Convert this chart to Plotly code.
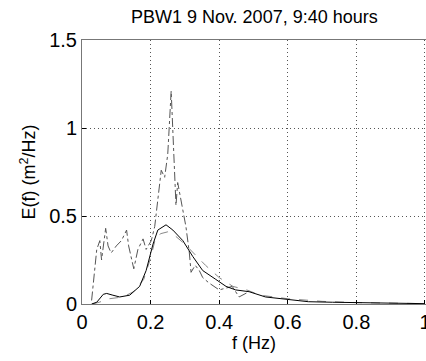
import plotly.graph_objects as go

# Measured spectrum (noisy, dash-dot)
f_meas = [0.028, 0.043, 0.052, 0.057, 0.069, 0.076, 0.085, 0.100, 0.115, 0.130, 0.136, 0.151,
          0.163, 0.178, 0.187, 0.202, 0.212, 0.221, 0.231, 0.241, 0.250, 0.260, 0.265, 0.270,
          0.274, 0.279, 0.294, 0.303, 0.313, 0.318, 0.330, 0.342, 0.352, 0.370, 0.400, 0.420,
          0.438, 0.458, 0.487]
e_meas = [0.02, 0.31, 0.36, 0.25, 0.43, 0.33, 0.29, 0.33, 0.36, 0.42, 0.33, 0.20,
          0.31, 0.37, 0.31, 0.36, 0.44, 0.59, 0.76, 0.72, 0.85, 1.21, 1.00, 0.80,
          0.56, 0.69, 0.52, 0.44, 0.29, 0.18, 0.22, 0.19, 0.15, 0.12, 0.08, 0.09,
          0.10, 0.04, 0.07]

# Model spectrum (solid black)
f_model = [0.028, 0.043, 0.062, 0.072, 0.090, 0.110, 0.139, 0.168, 0.187, 0.207, 0.221, 0.245,
           0.265, 0.294, 0.323, 0.352, 0.390, 0.420, 0.448, 0.487, 0.535, 0.603, 0.660, 0.730,
           0.800, 0.920, 1.000]
e_model = [0.0, 0.01, 0.055, 0.06, 0.05, 0.04, 0.05, 0.10, 0.19, 0.34, 0.42, 0.45,
           0.42, 0.36, 0.27, 0.19, 0.14, 0.10, 0.08, 0.07, 0.04, 0.027, 0.013, 0.01,
           0.007, 0.003, 0.002]

# Fitted spectrum (grey dashed)
f_fit = [0.030, 0.050, 0.080, 0.120, 0.150, 0.180, 0.200, 0.215, 0.230, 0.250, 0.270, 0.300,
         0.330, 0.360, 0.400, 0.440, 0.480, 0.520, 0.600, 0.700, 0.800, 0.900, 1.000]
e_fit = [0.0, 0.01, 0.03, 0.04, 0.07, 0.14, 0.26, 0.38, 0.40, 0.41, 0.39, 0.34,
         0.28, 0.22, 0.15, 0.10, 0.08, 0.05, 0.03, 0.015, 0.008, 0.004, 0.002]

x_ticks = [0, 0.2, 0.4, 0.6, 0.8, 1.0]
x_labels = ["0", "0.2", "0.4", "0.6", "0.8", "1"]
y_ticks = [0, 0.5, 1, 1.5]
y_labels = ["0", "0.5", "1", "1.5"]

fig = go.Figure()
fig.add_trace(go.Scatter(x=f_meas, y=e_meas, mode="lines",
                         line=dict(color="#555555", width=1, dash="dashdot")))
fig.add_trace(go.Scatter(x=f_fit, y=e_fit, mode="lines",
                         line=dict(color="#888888", width=1, dash="dash")))
fig.add_trace(go.Scatter(x=f_model, y=e_model, mode="lines",
                         line=dict(color="black", width=1)))

fig.update_layout(
    width=426, height=361,
    margin=dict(l=82, r=0, t=40, b=57, autoexpand=False),
    paper_bgcolor="white", plot_bgcolor="white",
    showlegend=False,
    font=dict(family="Liberation Sans, Arial, sans-serif", color="black", size=18),
    title=dict(text="PBW1 9 Nov. 2007, 9:40 hours", x=0.597, xanchor="center",
               y=0.955, yanchor="middle", font=dict(size=18)),
)
fig.update_xaxes(range=[0, 1.003], tickvals=x_ticks, ticktext=x_labels,
                 showgrid=True, gridcolor="#555555", griddash="1px,3px", gridwidth=1,
                 showline=True, linecolor="#777777", mirror=True, linewidth=1,
                 ticks="inside", ticklen=4, tickcolor="black", zeroline=False,
                 automargin=False, ticklabeloverflow="allow",
                 title=dict(text="f (Hz)", standoff=4, font=dict(size=18)),
                 tickfont=dict(size=20))
fig.update_yaxes(range=[0, 1.5], tickvals=y_ticks, ticktext=y_labels,
                 showgrid=True, gridcolor="#555555", griddash="1px,3px", gridwidth=1,
                 showline=True, linecolor="#777777", mirror=True, linewidth=1,
                 ticks="inside", ticklen=4, tickcolor="black", zeroline=False,
                 automargin=False, ticklabeloverflow="allow",
                 title=dict(text="E(f) (m<sup>2</sup>/Hz)", standoff=8, font=dict(size=18)),
                 tickfont=dict(size=20))

fig.write_html("out.html")
